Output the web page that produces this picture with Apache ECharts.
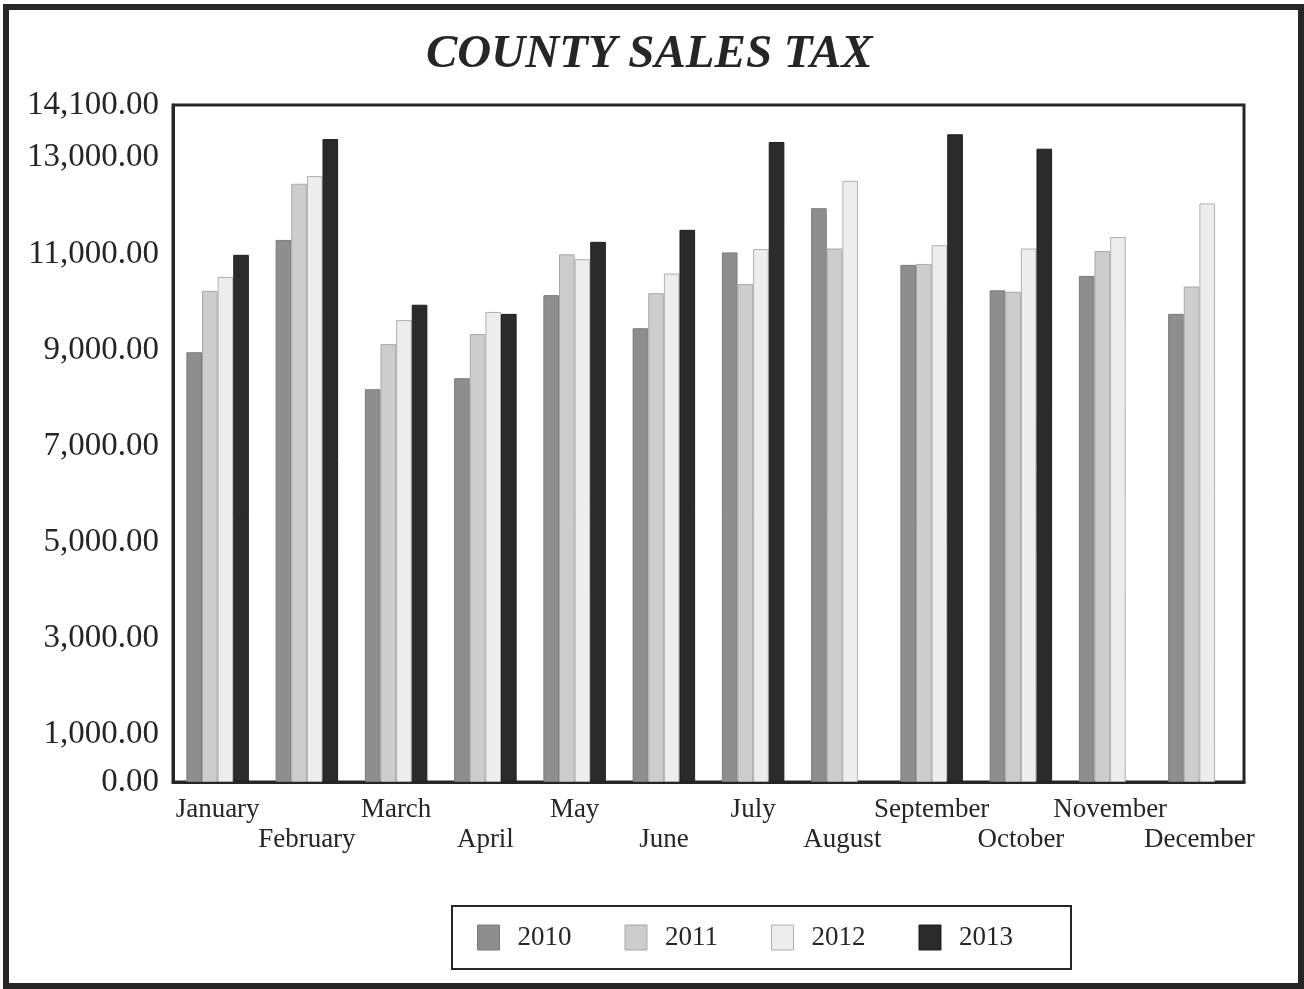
<!DOCTYPE html>
<html lang="en">
<head>
    <title>County Sales Tax</title>
    <meta charset="utf-8" />
    <script src="https://cdn.jsdelivr.net/npm/echarts@6.0.0/dist/echarts.min.js"></script>
    <style>
        html, body {
            margin: 0;
            padding: 0;
            background-color: #fff;
        }
        #frame {
            position: absolute;
            left: 3px;
            top: 4px;
            right: 0;
            bottom: 0;
            border: 6px solid #262626;
        }
        #main {
            position: absolute;
            left: 0;
            top: 0;
            width: 1304px;
            height: 989px;
        }
    </style>
</head>
<body>
<div id="frame"></div>
<div id="main"></div>
<script>
    let months = ['January', 'February', 'March', 'April', 'May', 'June',
        'July', 'August', 'September', 'October', 'November', 'December']
    let years = ['2010', '2011', '2012', '2013']
    let tax2010 = [8950, 11290, 8180, 8410, 10140, 9450, 11030, 11950, 10770, 10240, 10540, 9750]
    let tax2011 = [10230, 12460, 9120, 9330, 10990, 10180, 10370, 11110, 10790, 10210, 11060, 10320]
    let tax2012 = [10520, 12620, 9620, 9790, 10890, 10590, 11100, 12520, 11180, 11110, 11350, 12050]
    let tax2013 = [10980, 13390, 9940, 9750, 11250, 11500, 13330, null, 13490, 13190, null, null]
    let yTicks = [0, 1000, 3000, 5000, 7000, 9000, 11000, 13000, 14100]

    let fills = ['#8e8e8e', '#cdcdcd', '#ededed', '#2b2b2b']
    let edges = ['#7a7a7a', '#a8a8a8', '#b0b0b0', '#1e1e1e']
    let serif = '"Liberation Serif", "DejaVu Serif", serif'
    let textColor = '#262626'

    let chart = echarts.init(document.getElementById('main'), null, {renderer: 'canvas'})

    function fmt(v) {
        return v.toLocaleString('en-US', {minimumFractionDigits: 2, maximumFractionDigits: 2})
    }

    let series = [tax2010, tax2011, tax2012, tax2013].map(function (data, i) {
        return {
            name: years[i],
            type: 'bar',
            barGap: '0%',
            barCategoryGap: '30%',
            itemStyle: {
                color: fills[i],
                borderColor: edges[i],
                borderWidth: 1
            },
            data: data
        }
    })

    chart.setOption({
        animation: false,
        backgroundColor: 'transparent',
        title: {
            text: 'COUNTY SALES TAX',
            left: 421,
            top: 26,
            textStyle: {
                fontFamily: serif,
                fontStyle: 'italic',
                fontWeight: 'bold',
                fontSize: 47,
                color: textColor
            }
        },
        legend: {
            left: 452,
            top: 906,
            orient: 'horizontal',
            padding: [18, 58, 18, 25],
            itemGap: 53,
            itemWidth: 22,
            itemHeight: 25,
            borderColor: '#262626',
            borderWidth: 2,
            icon: 'rect',
            data: years.map(function (y, i) {
                return {name: y, itemStyle: {color: fills[i], borderColor: edges[i], borderWidth: 1}}
            }),
            textStyle: {
                fontFamily: serif,
                fontSize: 27,
                color: textColor,
                padding: [0, 0, 0, 13]
            }
        },
        grid: {
            left: 173,
            right: 60,
            top: 105,
            bottom: 207,
            show: true,
            borderColor: '#262626',
            borderWidth: 3,
            backgroundColor: 'transparent'
        },
        xAxis: {
            type: 'category',
            data: months,
            axisTick: {show: false},
            axisLine: {show: true, lineStyle: {color: '#262626', width: 3}},
            axisLabel: {
                interval: 0,
                margin: 13,
                fontFamily: serif,
                fontSize: 27,
                lineHeight: 30,
                color: textColor,
                formatter: function (value, idx) {
                    return idx % 2 === 1 ? '\n' + value : value
                }
            }
        },
        yAxis: {
            type: 'value',
            min: 0,
            max: 14100,
            splitLine: {show: false},
            axisTick: {show: false},
            axisLine: {show: true, lineStyle: {color: '#262626', width: 3}},
            axisLabel: {
                customValues: yTicks,
                margin: 14,
                fontFamily: serif,
                fontSize: 33,
                color: textColor,
                formatter: function (v) {
                    return fmt(v)
                }
            }
        },
        series: series
    })
</script>
</body>
</html>
